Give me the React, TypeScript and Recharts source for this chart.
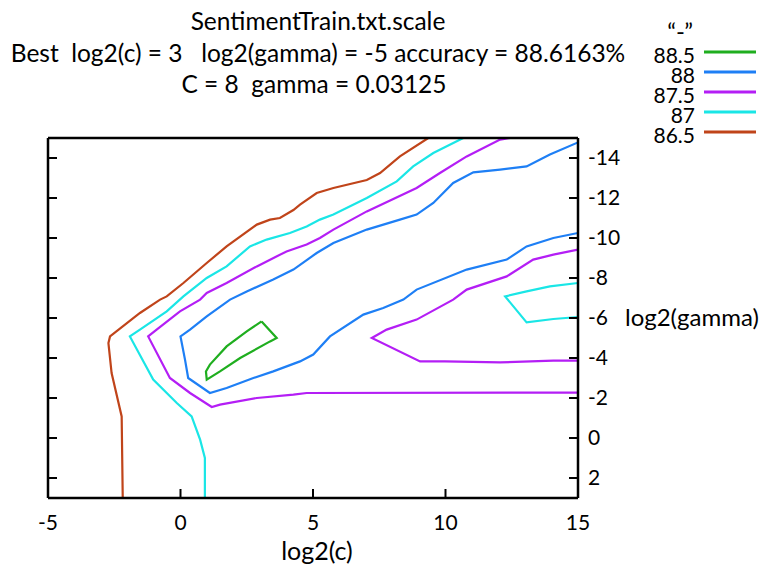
import { Line, LineChart, XAxis, YAxis } from "recharts";

// contour levels (legend order) and their colours
const LEVELS = ["88.5", "88", "87.5", "87", "86.5"];
const LEVEL_COLORS: Record<string, string> = {
  "88.5": "#1fae1f",
  "88": "#1e7ff5",
  "87.5": "#b41ef5",
  "87": "#1ae6e6",
  "86.5": "#c0441a",
};

const X_TICKS = [-5, 0, 5, 10, 15];
const X_TICKS_TOP = [0, 5, 10];
const Y_TICKS = [-14, -12, -10, -8, -6, -4, -2, 0, 2];

const TITLE = "SentimentTrain.txt.scale";
const BEST_LINE = "Best  log2(c) = 3   log2(gamma) = -5 accuracy = 88.6163%";
const PARAM_LINE = "C = 8  gamma = 0.03125";
const KEY_TITLE = "\u201c-\u201d";

type P = { x: number; y: number };
const pts = (a: number[][]): P[] => a.map(([x, y]) => ({ x, y }));

// [log2(c), log2(gamma)]
const c885 = pts([
  [3.06, -5.83], [3.63, -5.0], [3.38, -4.83], [2.25, -4.0], [1.49, -3.33],
  [0.99, -2.92], [0.96, -3.33], [1.11, -3.67], [1.74, -4.58], [2.5, -5.33],
  [3.06, -5.83],
]);

const c88 = pts([
  [15, -10.25], [14.07, -10], [13.06, -9.58], [12.31, -8.92], [10.8, -8.42],
  [8.91, -7.42], [8.41, -6.92], [7.65, -6.5], [6.9, -6.17], [5.64, -5.08],
  [5.01, -4.17], [4.51, -3.83], [3.5, -3.33], [2.75, -3.0], [1.74, -2.5],
  [1.11, -2.25], [0.29, -3.0], [0.17, -3.92], [0, -5.08], [0.36, -5.42],
  [0.99, -6.08], [1.87, -6.92], [2.5, -7.33], [3.5, -7.92], [4.26, -8.42],
  [5.14, -9.25], [5.77, -9.75], [7.03, -10.42], [8.28, -10.92], [8.91, -11.17],
  [9.54, -11.75], [10.29, -12.75], [11.05, -13.28], [12.06, -13.42],
  [13.06, -13.58], [13.94, -14.17], [15, -14.78],
]);

const c875a = pts([
  [15, -2.27], [4.76, -2.25], [4.26, -2.17], [2.88, -2.0], [1.49, -1.67],
  [1.18, -1.55], [0.36, -2.25], [-0.4, -3.0], [-1.22, -5.08], [-0.9, -5.42],
  [-0.02, -6.33], [0.74, -6.92], [0.99, -7.25], [1.74, -7.75], [2.88, -8.58],
  [4.0, -9.33], [4.76, -9.67], [5.26, -10], [5.77, -10.42], [7.03, -11.33],
  [8.91, -12.5], [9.79, -13.25], [10.8, -14.08], [12.06, -14.92], [12.43, -15],
]);

const c875b = pts([
  [15, -9.42], [14.07, -9.17], [13.31, -8.92], [12.31, -8.08], [10.8, -7.42],
  [10.29, -6.92], [8.91, -5.92], [7.78, -5.42], [7.22, -5.0], [9.04, -3.83],
  [9.98, -3.83], [12.06, -3.78], [14.07, -3.87], [15, -3.87],
]);

const c87a = pts([
  [0.92, 3], [0.92, 1], [0.74, 0.08], [0.42, -1.08], [-0.14, -1.75],
  [-1.03, -2.92], [-1.91, -5.08], [-1.53, -5.42], [-0.52, -6.33], [0.11, -7.08],
  [0.99, -8.0], [1.74, -8.58], [2.62, -9.58], [3.25, -9.92], [4.13, -10.25],
  [4.76, -10.58], [5.26, -10.92], [5.77, -11.17], [7.03, -12], [8.16, -12.83],
  [8.78, -13.58], [9.54, -14.25], [10.67, -15],
]);

const c87b = pts([
  [15, -7.75], [13.94, -7.58], [13.06, -7.33], [12.25, -7.08], [13.06, -5.78],
  [14.07, -5.95], [15, -6.05],
]);

const c865 = pts([
  [-2.18, 3], [-2.22, -1.08], [-2.6, -3.25], [-2.72, -4.75], [-2.66, -5.08],
  [-1.53, -6.25], [-0.77, -6.92], [-0.52, -7.08], [0.11, -7.75], [0.99, -8.75],
  [1.74, -9.58], [2.88, -10.67], [3.38, -10.92], [3.75, -11.0], [4.26, -11.4],
  [4.51, -11.67], [5.14, -12.25], [5.77, -12.5], [7.03, -12.9], [7.53, -13.25],
  [8.28, -14.08], [9.35, -15],
]);

const CONTOURS = [
  { id: "c885", level: "88.5", data: c885 },
  { id: "c88", level: "88", data: c88 },
  { id: "c875a", level: "87.5", data: c875a },
  { id: "c875b", level: "87.5", data: c875b },
  { id: "c87a", level: "87", data: c87a },
  { id: "c87b", level: "87", data: c87b },
  { id: "c865", level: "86.5", data: c865 },
];

const FONT = "Lato, 'Open Sans', sans-serif";
const TICK_LEN = 9;

function RightTick({ x, y, payload }: any) {
  return (
    <g>
      <line x1={x - TICK_LEN} x2={x} y1={y} y2={y} stroke="#000" strokeWidth={2} />
      <text x={x + 10} y={y + 7} fontSize={21} fill="#000">
        {payload.value}
      </text>
    </g>
  );
}

function LeftTick({ x, y }: any) {
  return <line x1={x} x2={x + TICK_LEN} y1={y} y2={y} stroke="#000" strokeWidth={2} />;
}

function BottomTick({ x, y, payload }: any) {
  return (
    <g>
      <line x1={x} x2={x} y1={y - TICK_LEN} y2={y} stroke="#000" strokeWidth={2} />
      <text x={x} y={y + 32} fontSize={21} fill="#000" textAnchor="middle">
        {payload.value}
      </text>
    </g>
  );
}

function TopTick({ x, y }: any) {
  return <line x1={x} x2={x} y1={y} y2={y + TICK_LEN} stroke="#000" strokeWidth={2} />;
}

const axisLine = { stroke: "#000", strokeWidth: 2.5 };

export default function App() {
  return (
    <div
      style={{
        position: "absolute",
        left: 0,
        top: 0,
        width: 769,
        height: 566,
        background: "#fff",
        fontFamily: FONT,
      }}
    >
      <LineChart
        width={769}
        height={566}
        margin={{ top: 137, right: 131, bottom: 38, left: 47 }}
      >
        <XAxis
          dataKey="x"
          type="number"
          domain={[-5, 15]}
          ticks={X_TICKS}
          interval={0}
          allowDataOverflow
          height={30}
          tickSize={0}
          tickMargin={0}
          tickLine={false}
          axisLine={axisLine}
          tick={<BottomTick />}
        />
        <XAxis
          xAxisId="top"
          orientation="top"
          type="number"
          domain={[-5, 15]}
          ticks={X_TICKS_TOP}
          interval={0}
          allowDataOverflow
          height={1}
          tickSize={0}
          tickMargin={0}
          tickLine={false}
          axisLine={axisLine}
          tick={<TopTick />}
        />
        <YAxis
          orientation="right"
          type="number"
          domain={[-15, 3]}
          reversed
          ticks={Y_TICKS}
          interval={0}
          allowDataOverflow
          width={60}
          tickSize={0}
          tickMargin={0}
          tickLine={false}
          axisLine={axisLine}
          tick={<RightTick />}
        />
        <YAxis
          yAxisId="left"
          orientation="left"
          type="number"
          domain={[-15, 3]}
          reversed
          ticks={Y_TICKS}
          interval={0}
          allowDataOverflow
          width={1}
          tickSize={0}
          tickMargin={0}
          tickLine={false}
          axisLine={axisLine}
          tick={<LeftTick />}
        />
        {CONTOURS.map((c) => (
          <Line
            key={c.id}
            data={c.data}
            dataKey="y"
            type="linear"
            stroke={LEVEL_COLORS[c.level]}
            strokeWidth={2.2}
            dot={false}
            activeDot={false}
            isAnimationActive={false}
          />
        ))}
      </LineChart>
      <svg
        width={769}
        height={566}
        style={{ position: "absolute", left: 0, top: 0, pointerEvents: "none" }}
      >
        <g fill="#000" fontFamily={FONT}>
          <text x={318} y={30} fontSize={24.5} textAnchor="middle">
            {TITLE}
          </text>
          <text x={318} y={62} fontSize={24.5} textAnchor="middle" xmlSpace="preserve">
            {BEST_LINE}
          </text>
          <text x={314} y={93} fontSize={24.5} textAnchor="middle" xmlSpace="preserve">
            {PARAM_LINE}
          </text>
          <text x={317} y={560} fontSize={25} textAnchor="middle">
            log2(c)
          </text>
          <text x={625} y={326} fontSize={24}>
            log2(gamma)
          </text>
          <text x={693} y={40} fontSize={24} textAnchor="end">
            {KEY_TITLE}
          </text>
          {LEVELS.map((lv, i) => (
            <g key={lv}>
              <text x={695} y={63 + i * 20} fontSize={21} textAnchor="end">
                {lv}
              </text>
              <line
                x1={704}
                x2={756}
                y1={52 + i * 20}
                y2={52 + i * 20}
                stroke={LEVEL_COLORS[lv]}
                strokeWidth={3}
              />
            </g>
          ))}
        </g>
      </svg>
    </div>
  );
}
